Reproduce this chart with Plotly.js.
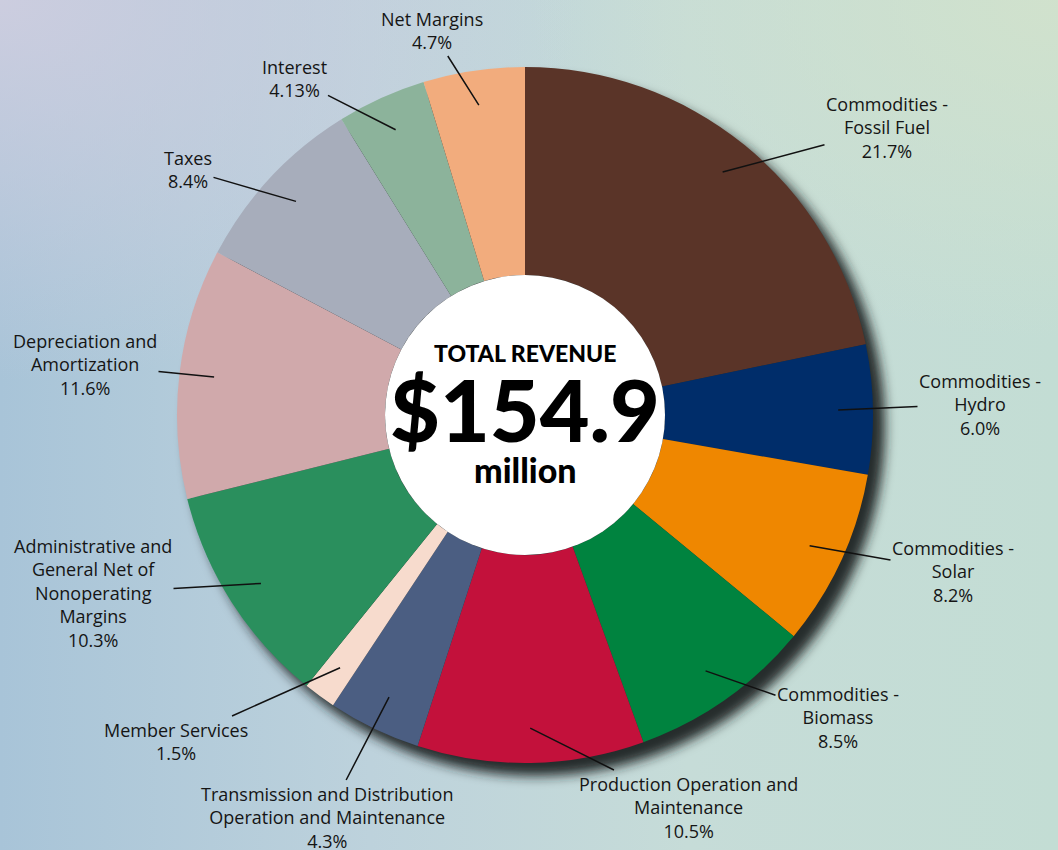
<!DOCTYPE html>
<html>
<head>
<meta charset="utf-8">
<script src="https://cdn.plot.ly/plotly-3.0.1.min.js"></script>
<style>
  html, body { margin: 0; padding: 0; }
  body {
    width: 1058px; height: 850px; overflow: hidden;
    background:
      radial-gradient(ellipse 55% 45% at 0% 0%, rgba(208,206,224,0.9), rgba(208,206,224,0) 100%),
      radial-gradient(ellipse 50% 40% at 100% 0%, rgba(210,226,204,0.9), rgba(210,226,204,0) 100%),
      linear-gradient(90deg, #a8c4d8 0%, #bdd2dc 35%, #c6dcd8 65%, #c3ddd4 100%);
  }
  #chart { width: 1058px; height: 850px; }
</style>
</head>
<body>
<div id="chart"></div>
<script>
// Revenue breakdown (percent of total revenue)
var categories = [
  'Commodities - Fossil Fuel', 'Commodities - Hydro', 'Commodities - Solar',
  'Commodities - Biomass', 'Production Operation and Maintenance',
  'Transmission and Distribution Operation and Maintenance', 'Member Services',
  'Administrative and General Net of Nonoperating Margins',
  'Depreciation and Amortization', 'Taxes', 'Interest', 'Net Margins'
];
var shares = [21.7, 6.0, 8.2, 8.5, 10.5, 4.3, 1.5, 10.3, 11.6, 8.4, 4.13, 4.7];
var shareText = ['21.7%', '6.0%', '8.2%', '8.5%', '10.5%', '4.3%', '1.5%', '10.3%', '11.6%', '8.4%', '4.13%', '4.7%'];
var labelLines = [
  'Commodities -<br>Fossil Fuel', 'Commodities -<br>Hydro', 'Commodities -<br>Solar',
  'Commodities -<br>Biomass', 'Production Operation and<br>Maintenance',
  'Transmission and Distribution<br>Operation and Maintenance', 'Member Services',
  'Administrative and<br>General Net of<br>Nonoperating<br>Margins',
  'Depreciation and<br>Amortization', 'Taxes', 'Interest', 'Net Margins'
];
var totalRevenue = '$154.9';

var colors = ['#5a3428', '#002d6a', '#ef8700', '#00833f', '#c3113b', '#4b5e82',
              '#f7dbcd', '#2a8f5d', '#d0a9ab', '#a7adbb', '#8cb39b', '#f2ac7d'];

// layout: pie geometry in pixels, label centres in pixels
var W = 1058, H = 850, cx = 525, cy = 415, R = 348, holeR = 140;
var labelPos = [[887, 128], [980, 404], [953, 571], [838, 717], [688, 807], [327, 817],
                [176, 741], [93, 593], [85, 364], [188, 170], [294, 78], [432, 31]];

function circle(x, y, r, fill, layer) {
  return {
    type: 'circle', xref: 'paper', yref: 'paper', layer: layer,
    x0: (x - r) / W, x1: (x + r) / W, y0: 1 - (y + r) / H, y1: 1 - (y - r) / H,
    fillcolor: fill, line: {width: 0}
  };
}

var pie = {
  type: 'pie', labels: categories, values: shares, sort: false,
  direction: 'clockwise', rotation: 0, hole: holeR / R,
  textinfo: 'none', hoverinfo: 'skip',
  marker: {colors: colors, line: {width: 0}},
  domain: {x: [(cx - R) / W, (cx + R) / W], y: [(H - cy - R) / H, (H - cy + R) / H]},
  showlegend: false
};

var labelFont = {family: '"Open Sans", sans-serif', size: 18, color: '#151515'};

// leader lines + labels, tips at the middle of each slice
var total = shares.reduce(function (a, b) { return a + b; }, 0);
var annotations = [];
var cum = 0;
shares.forEach(function (v, i) {
  var mid = (cum + v / 2) / total * 2 * Math.PI;
  cum += v;
  var tx = cx + 0.9 * R * Math.sin(mid), ty = cy - 0.9 * R * Math.cos(mid);
  annotations.push({
    x: tx / W, y: 1 - ty / H, xref: 'paper', yref: 'paper',
    text: labelLines[i] + '<br>' + shareText[i],
    showarrow: true, arrowhead: 0, arrowwidth: 1.5, arrowcolor: '#111',
    ax: labelPos[i][0] - tx, ay: labelPos[i][1] - ty, standoff: 0,
    align: 'center', font: labelFont
  });
});

annotations.push(
  {x: cx / W, y: 1 - 353 / H, xref: 'paper', yref: 'paper', showarrow: false,
   text: 'TOTAL REVENUE', font: {family: 'Lato, sans-serif', size: 23, weight: 900, color: '#000'}},
  {x: cx / W, y: 1 - 408 / H, xref: 'paper', yref: 'paper', showarrow: false,
   text: totalRevenue, font: {family: 'Lato, sans-serif', size: 86, weight: 900, color: '#000'}},
  {x: cx / W, y: 1 - 469 / H, xref: 'paper', yref: 'paper', showarrow: false,
   text: 'million', font: {family: 'Lato, sans-serif', size: 34, weight: 900, color: '#000'}}
);

var layout = {
  width: W, height: H,
  margin: {l: 0, r: 0, t: 0, b: 0},
  paper_bgcolor: 'rgba(0,0,0,0)', plot_bgcolor: 'rgba(0,0,0,0)',
  showlegend: false,
  shapes: [
    circle(cx + 11, cy + 12, R + 1, 'rgba(28,33,33,0.95)', 'below'),  // drop shadow
    circle(cx, cy, holeR, '#ffffff', 'above')                          // white centre
  ],
  annotations: annotations
};

Plotly.newPlot('chart', [pie], layout, {displayModeBar: false, staticPlot: true})
  .then(function (gd) {
    // soften the drop shadow with an SVG blur
    var ns = 'http://www.w3.org/2000/svg';
    var svg = gd.querySelector('.main-svg');
    var defs = svg.querySelector('defs');
    var f = document.createElementNS(ns, 'filter');
    f.setAttribute('id', 'pieShadowBlur');
    f.setAttribute('x', '-20%'); f.setAttribute('y', '-20%');
    f.setAttribute('width', '140%'); f.setAttribute('height', '140%');
    var b = document.createElementNS(ns, 'feGaussianBlur');
    b.setAttribute('stdDeviation', '6');
    f.appendChild(b);
    defs.appendChild(f);
    var sh = gd.querySelector('.layer-below .shapelayer path');
    if (sh) sh.setAttribute('filter', 'url(#pieShadowBlur)');
  });
</script>
</body>
</html>
